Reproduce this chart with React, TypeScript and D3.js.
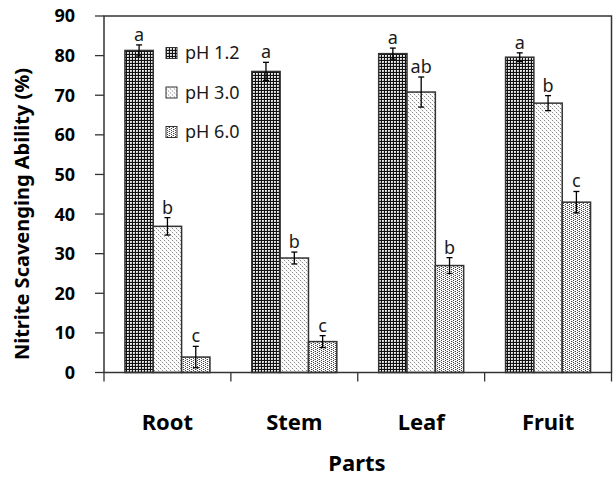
import React from "react";
import * as d3 from "d3";

const categories = ["Root", "Stem", "Leaf", "Fruit"];
const series = ["pH 1.2", "pH 3.0", "pH 6.0"];
const values = [
  [81.3, 76.0, 80.5, 79.6],
  [36.9, 28.9, 70.8, 68.0],
  [3.9, 7.8, 27.0, 43.0],
];
const errors = [
  [1.4, 2.3, 1.4, 1.1],
  [2.2, 1.5, 3.8, 1.9],
  [2.7, 1.5, 2.0, 2.7],
];
const letters = [
  ["a", "a", "a", "a"],
  ["b", "b", "ab", "b"],
  ["c", "c", "b", "c"],
];
const yTicks = [0, 10, 20, 30, 40, 50, 60, 70, 80, 90];

const W = 615;
const H = 477;
const left = 104;
const right = 611.5;
const top = 16;
const bottom = 372.5;
const font = "'Noto Sans', 'DejaVu Sans', sans-serif";

export default function App() {
  const y = d3.scaleLinear().domain([0, 90]).range([bottom, top]);
  const x = d3
    .scaleBand()
    .domain(categories)
    .range([left, right])
    .paddingInner(0.33)
    .paddingOuter(0.165);
  const xs = d3.scaleBand().domain(series).range([0, x.bandwidth()]);
  const step = x.step();
  const fills = ["url(#p1)", "url(#p2)", "url(#p3)"];

  return (
    <svg
      width={W}
      height={H}
      style={{ position: "absolute", left: 0, top: 0, background: "#fff" }}
    >
      <defs>
        <pattern id="p1" width={3} height={3} patternUnits="userSpaceOnUse">
          <rect width={3} height={3} fill="#fff" />
          <rect x={0} y={0} width={3} height={1} fill="#111" />
          <rect x={0} y={0} width={1} height={3} fill="#111" />
          <rect x={1.5} y={1.5} width={1.5} height={1.5} fill="#bbb" />
        </pattern>
        <pattern id="p2" width={4} height={4} patternUnits="userSpaceOnUse">
          <rect width={4} height={4} fill="#fff" />
          <rect x={0} y={0} width={1} height={1} fill="#888" />
          <rect x={2} y={2} width={1} height={1} fill="#888" />
          <rect x={1} y={1} width={1} height={1} fill="#ddd" />
          <rect x={3} y={3} width={1} height={1} fill="#ddd" />
        </pattern>
        <pattern id="p3" width={4} height={4} patternUnits="userSpaceOnUse">
          <rect width={4} height={4} fill="#fff" />
          <rect x={1} y={0} width={1} height={1} fill="#444" />
          <rect x={1} y={2} width={1} height={1} fill="#444" />
          <rect x={3} y={1} width={1} height={1} fill="#444" />
          <rect x={3} y={3} width={1} height={1} fill="#444" />
          <rect x={0} y={1} width={1} height={1} fill="#bbb" />
          <rect x={2} y={3} width={1} height={1} fill="#bbb" />
        </pattern>
      </defs>

      {/* bars */}
      {series.map((s, si) =>
        categories.map((c, ci) => {
          const bx = (x(c) as number) + (xs(s) as number);
          const v = values[si][ci];
          const e = errors[si][ci];
          const cx = bx + xs.bandwidth() / 2;
          return (
            <g key={s + c}>
              <rect
                x={bx}
                y={y(v)}
                width={xs.bandwidth()}
                height={y(0) - y(v)}
                fill={fills[si]}
                stroke="#333"
                strokeWidth={1.5}
              />
              <line x1={cx} x2={cx} y1={y(v + e)} y2={y(v - e)} stroke="#000" strokeWidth={1.3} />
              <line x1={cx - 3} x2={cx + 3} y1={y(v + e)} y2={y(v + e)} stroke="#000" strokeWidth={1.3} />
              <line x1={cx - 3} x2={cx + 3} y1={y(v - e)} y2={y(v - e)} stroke="#000" strokeWidth={1.3} />
              <text
                x={cx}
                y={y(v + e) - 4}
                textAnchor="middle"
                fontFamily={font}
                fontSize={18}
                fill="#1a1a1a"
              >
                {letters[si][ci]}
              </text>
            </g>
          );
        })
      )}

      {/* frame */}
      <rect
        x={left}
        y={top}
        width={right - left}
        height={bottom - top}
        fill="none"
        stroke="#333"
        strokeWidth={1.5}
      />

      {/* y ticks */}
      {yTicks.map((t) => (
        <g key={t}>
          <line x1={left - 9} x2={left} y1={y(t)} y2={y(t)} stroke="#333" strokeWidth={1.3} />
          <text
            x={75}
            y={y(t)}
            dy="0.36em"
            textAnchor="end"
            fontFamily={font}
            fontWeight="bold"
            fontSize={18}
            fill="#000"
          >
            {t}
          </text>
        </g>
      ))}

      {/* x boundary ticks */}
      {d3.range(categories.length + 1).map((i) => (
        <line
          key={i}
          x1={left + i * step}
          x2={left + i * step}
          y1={bottom}
          y2={bottom + 9}
          stroke="#333"
          strokeWidth={1.3}
        />
      ))}

      {/* category labels */}
      {categories.map((c) => (
        <text
          key={c}
          x={(x(c) as number) + x.bandwidth() / 2}
          y={422}
          dy="0.36em"
          textAnchor="middle"
          fontFamily={font}
          fontWeight="bold"
          fontSize={22}
          fill="#000"
        >
          {c}
        </text>
      ))}

      {/* axis titles */}
      <text
        x={357}
        y={463}
        dy="0.36em"
        textAnchor="middle"
        fontFamily={font}
        fontWeight="bold"
        fontSize={22}
        fill="#000"
      >
        Parts
      </text>
      <text
        transform={`translate(22,214) rotate(-90)`}
        textAnchor="middle"
        dy="0.36em"
        fontFamily={font}
        fontWeight="bold"
        fontSize={20}
        fill="#000"
      >
        Nitrite Scavenging Ability (%)
      </text>

      {/* legend */}
      {series.map((s, i) => (
        <g key={s} transform={`translate(166,${53 + i * 39.5})`}>
          <rect x={0} y={-5.5} width={11} height={11} fill={fills[i]} stroke="#333" strokeWidth={1} />
          <text x={19} y={0} dy="0.36em" fontFamily={font} fontSize={18} fill="#1a1a1a">
            {s}
          </text>
        </g>
      ))}
    </svg>
  );
}
